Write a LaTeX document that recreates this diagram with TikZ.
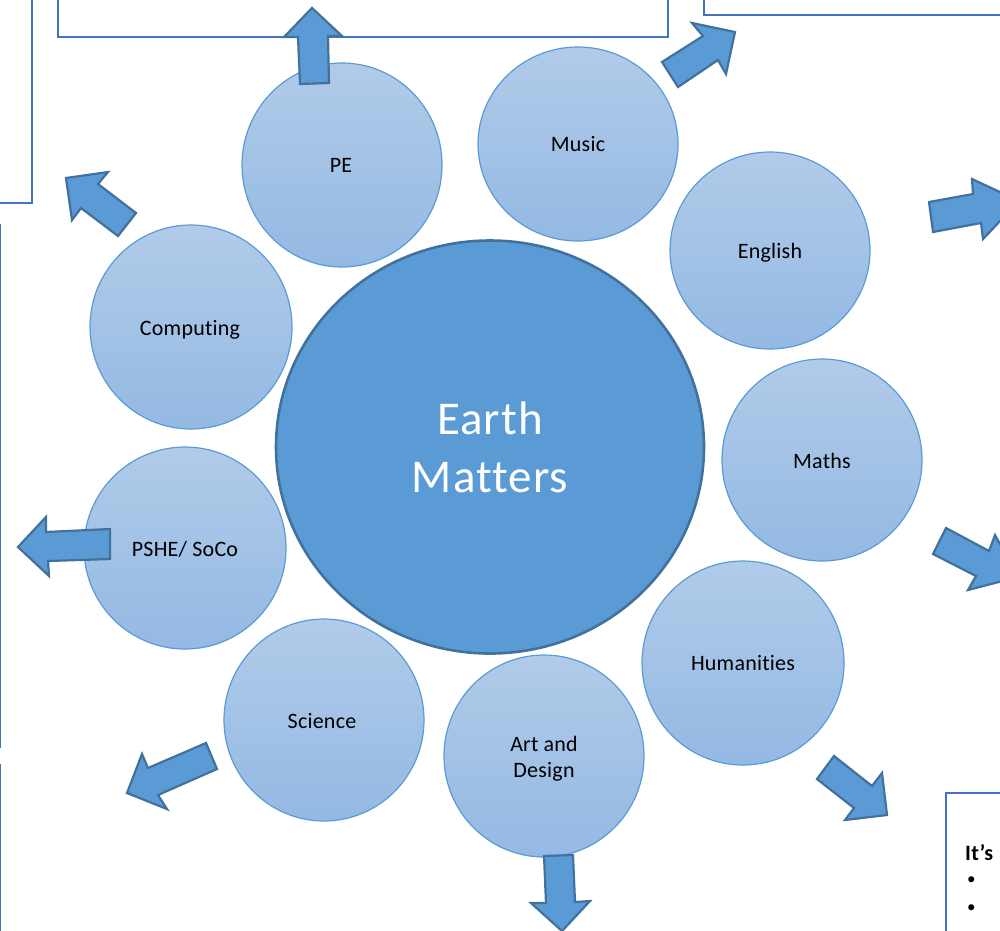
\documentclass[tikz,border=0pt]{standalone}
\usepackage{fontspec}
\setmainfont[Ligatures=NoCommon,LetterSpace=1]{Carlito}
\newfontfamily\hubfont[Ligatures=NoCommon,LetterSpace=2.2]{Carlito}
\usetikzlibrary{shapes.geometric}
\definecolor{boxline}{HTML}{4472C4}
\definecolor{hubfill}{HTML}{5B9BD5}
\definecolor{hubline}{HTML}{41719C}
\definecolor{subtop}{HTML}{B1CBE9}
\definecolor{subbot}{HTML}{94B9E3}
\newcommand{\lowered}[2]{\raisebox{-#1pt}[\height][\depth]{#2}}
\tikzset{
  subject/.style 2 args={ellipse,draw=hubfill,line width=1.2pt,top color=subtop,bottom color=subbot,
    minimum width=#1,minimum height=#2,inner sep=0pt,align=center,font=\fontsize{22}{26}\selectfont,text=black},
  hub/.style={ellipse,draw=hubline,line width=2.6pt,fill=hubfill,minimum width=428pt,minimum height=413pt,inner sep=0pt,
    align=center,font=\hubfont\fontsize{47}{58}\selectfont,text=white},
  arrowshape/.style={draw=hubline,line width=2.2pt,fill=hubfill,line join=miter},
  panel/.style={draw=boxline,line width=2.8pt}
}
\begin{document}
\begin{tikzpicture}[x=1pt,y=-1pt]
\useasboundingbox (0,0) rectangle (1000,930);
\begin{scope}
\clip (0,0) rectangle (1000,930);
% text panels running off the page
\draw[panel] (58,-10) -- (58,37) -- (668,37) -- (668,-10);
\draw[panel] (-10,203) -- (32,203) -- (32,-10);
\draw[panel] (704,-10) -- (704,15) -- (1010,15);
\draw[panel] (0,224) -- (0,748);
\draw[panel] (0,764) -- (0,940);
\draw[panel] (946,940) -- (946,793) -- (1010,793);
% subject circles
\node[subject={200pt}{204pt}] (pe) at (342,165) {\hspace*{-2pt}PE};
\node[subject={200pt}{194pt}] (music) at (578,144) {Music};
\node[subject={200pt}{197pt}] (english) at (770,250.5) {\lowered{2}{English}};
\node[subject={200pt}{202pt}] (maths) at (822,460) {\lowered{1}{Maths}};
\node[subject={202pt}{204pt}] (hum) at (743,663) {Humanities};
\node[subject={200pt}{202pt}] (art) at (544,756) {\lowered{3}{Art and}\\\lowered{3}{Design}};
\node[subject={200pt}{202pt}] (sci) at (324,720) {\hspace*{-4pt}\lowered{1}{Science}};
\node[subject={202pt}{202pt}] (pshe) at (185,548) {\lowered{1}{PSHE/ SoCo}};
\node[subject={202pt}{204pt}] (comp) at (191,327) {\hspace*{-2pt}\lowered{3}{Computing}};
\node[hub] (earth) at (490,447) {Earth\\Matters};
% outgoing arrows
\filldraw[arrowshape] (312,8) -- (342,36) -- (328,36) -- (329,83) -- (300,84) -- (298,37) -- (284,37) -- cycle;
\filldraw[arrowshape] (66,178) -- (108,172) -- (98,184) -- (136,213) -- (118,236) -- (81,208) -- (72,220) -- cycle;
\filldraw[arrowshape] (735,32) -- (692,23) -- (703,36) -- (662,62) -- (678,87) -- (718,60) -- (726,74) -- cycle;
\filldraw[arrowshape] (1019,201) -- (983,239) -- (981,223) -- (933,232) -- (929,202) -- (973,194) -- (972,179) -- cycle;
\filldraw[arrowshape] (1018,577) -- (968,590) -- (976,576) -- (933,554) -- (946,528) -- (989,551) -- (995,535) -- cycle;
\filldraw[arrowshape] (887,815) -- (845,820) -- (854,808) -- (817,779) -- (834,756) -- (872,786) -- (882,773) -- cycle;
\filldraw[arrowshape] (562,931) -- (531,903) -- (546,903) -- (544,856) -- (573,855) -- (575,902) -- (590,901) -- cycle;
\filldraw[arrowshape] (127,793) -- (142,754) -- (148,768) -- (206,743) -- (217,769) -- (158,795) -- (167,809) -- cycle;
\filldraw[arrowshape] (18,547) -- (46,517) -- (46,532) -- (110,529) -- (110,559) -- (48,561) -- (49,576) -- cycle;
% panel text
\node[anchor=west,inner sep=0pt,font=\fontsize{22}{26}\selectfont\bfseries] (its) at (965,853) {It’s};
\node[anchor=west,inner sep=0pt,font=\fontsize{17}{20}\selectfont] (b1) at (967,881) {•};
\node[anchor=west,inner sep=0pt,font=\fontsize{17}{20}\selectfont] (b2) at (967,909) {•};
\end{scope}
\end{tikzpicture}
\end{document}
